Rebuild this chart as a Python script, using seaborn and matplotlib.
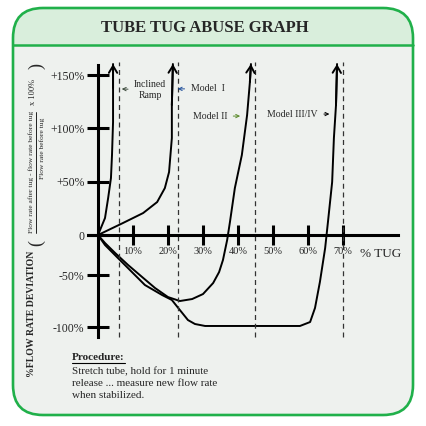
import numpy as np
import pandas as pd
import matplotlib
matplotlib.use("Agg")
import matplotlib.pyplot as plt
import seaborn as sns
from matplotlib.patches import FancyBboxPatch, Rectangle

# values: x = % tug, y = % flow rate deviation
ramp_x = [0, 2.0, 2.9, 3.7, 4.0, 4.3, 4.3, 4.3]
ramp_y = [0, 15.9, 34.7, 53.4, 75.0, 105.9, 137.8, 160.3]

model1_x = [0, 7.1, 12.9, 16.9, 19.1, 20.3, 21.1, 21.1, 21.4]
model1_y = [0, 11.2, 20.6, 30.9, 44.0, 59.0, 90.9, 121.8, 160.3]

model2_x = [0, 2.0, 4.9, 8.6, 12.6, 16.3, 20.0, 23.4, 26.9, 30.0, 32.9, 34.6,
            35.7, 36.9, 37.7, 39.1, 41.1, 42.6, 43.4, 43.7]
model2_y = [0, -10, -22.5, -37.5, -51.9, -62.5, -71.2, -75.0, -73.1, -68.3, -57.7, -46.3,
            -31.3, -6.3, 12.2, 44.0, 75.0, 112.5, 143.4, 160.3]

model3_x = [0, 2.0, 5.7, 9.7, 13.4, 18.3, 21.1, 23.4, 25.7, 27.7, 30.6, 57.7, 60.6,
            62.0, 63.4, 64.9, 65.7, 66.9, 67.4, 68.0, 68.3]
model3_y = [0, -12.5, -28.8, -46.3, -59.6, -69.2, -74.0, -83.7, -93.3, -97.1, -99, -99, -95.2,
            -81.7, -56.7, -16.3, 12.2, 49.7, 90.9, 121.8, 160.3]

dash_x = [6, 23, 45, 70]
x_ticks = [10, 20, 30, 40, 50, 60, 70]
x_labels = ["10%", "20%", "30%", "40%", "50%", "60%", "70%"]
y_ticks = [150, 100, 50, 0, -50, -100]
y_labels = ["+150%", "+100%", "+50%", "0", "-50%", "-100%"]

procedure_lines = ["Stretch tube, hold for 1 minute",
                   "release ... measure new flow rate",
                   "when stabilized."]

curves = {"ramp": (ramp_x, ramp_y), "Model I": (model1_x, model1_y),
          "Model II": (model2_x, model2_y), "Model III/IV": (model3_x, model3_y)}
frames = []
for name, (xs, ys) in curves.items():
    frames.append(pd.DataFrame({"tug": xs, "dev": ys, "model": name}))
df = pd.concat(frames, ignore_index=True)

sns.set_style("white")
plt.rcParams["font.family"] = ["Liberation Serif", "DejaVu Serif"]

W, H = 427, 426
fig = plt.figure(figsize=(W / 100, H / 100), dpi=100)
fig.patch.set_facecolor("white")

# background frame, drawn in pixel coordinates
bg = fig.add_axes([0, 0, 1, 1])
bg.set_xlim(0, W)
bg.set_ylim(H, 0)
bg.axis("off")
green = "#20b04a"
frame = FancyBboxPatch((13, 8), 400, 407, boxstyle="round,pad=0,rounding_size=30",
                       fc="#eef1ee", ec="none", zorder=1)
bg.add_patch(frame)
header = Rectangle((13, 8), 400, 37, fc="#d9eedc", ec="none", zorder=2)
header.set_clip_path(frame)
bg.add_patch(header)
bg.plot([13, 413], [45, 45], color=green, lw=1.8, zorder=3)
bg.add_patch(FancyBboxPatch((13, 8), 400, 407, boxstyle="round,pad=0,rounding_size=30",
                            fc="none", ec=green, lw=1.9, zorder=4))
bg.text(205, 28, "TUBE TUG ABUSE GRAPH", ha="center", va="center",
        fontsize=12, fontweight="bold", zorder=5)

# main chart; piecewise y scale to follow the hand-drawn axis spacing
VP = [-1000, -100, -50, 0, 150, 1000]
UP = [-92 - 900 * 1.04, -92, -40, 0, 160, 160 + 850 * 1.0667]
fwd = lambda v: np.interp(v, VP, UP)
inv = lambda u: np.interp(u, UP, VP)

ax = fig.add_axes([84 / W, 1 - 339.5 / H, 322 / W, 280.5 / H])
ax.set_facecolor("none")
ax.set_yscale("function", functions=(fwd, inv))
ax.set_xlim(-4, 88)
ax.set_ylim(-112, 165)

sns.lineplot(data=df, x="tug", y="dev", hue="model", units="model", estimator=None,
             sort=False, palette=["black"] * 4, linewidth=1.4, legend=False, ax=ax)

for name, (xs, ys) in curves.items():
    ax.annotate("", xy=(xs[-1], ys[-1]), xytext=(xs[-2], ys[-2]),
                arrowprops=dict(arrowstyle="->,head_length=0.5,head_width=0.3",
                                lw=1.4, color="black", shrinkA=0, shrinkB=0,
                                mutation_scale=10))

ax.vlines(dash_x, -110, 162, colors="#333333", linestyles=(0, (4, 3)), lw=0.9)

for s in ["top", "right"]:
    ax.spines[s].set_visible(False)
ax.spines["left"].set_position(("data", 0))
ax.spines["bottom"].set_position(("data", 0))
ax.spines["left"].set_bounds(-110, 159)
ax.spines["bottom"].set_bounds(-2.9, 85.7)
for s in ["left", "bottom"]:
    ax.spines[s].set_linewidth(2.2)
    ax.spines[s].set_color("black")

ax.set_xticks(x_ticks)
ax.set_xticklabels(x_labels)
ax.set_yticks(y_ticks)
ax.set_yticklabels(y_labels)
ax.minorticks_off()
ax.tick_params(axis="x", bottom=True, direction="inout", length=14.4, width=2.2, pad=1.5,
               labelsize=7.5, color="black")
ax.tick_params(axis="y", left=True, direction="inout", length=16.5, width=2.2, pad=1.5,
               labelsize=8.5, color="black")
yt = ax.yaxis.get_major_ticks()
yt[1].tick1line.set_color("#3a4a1c")
yt[5].tick1line.set_color("#1c1c80")
ax.set_xlabel("")
ax.set_ylabel("")

# curve labels
lab = dict(fontsize=7, ha="center", va="center")
ax.annotate("Inclined\nRamp", xy=(6, 137), xytext=(14.9, 136), **lab,
            arrowprops=dict(arrowstyle="->", lw=0.7, color="#3c4a3c", mutation_scale=6))
ax.annotate("Model  I", xy=(22, 137), xytext=(31.3, 137), **lab,
            arrowprops=dict(arrowstyle="->", lw=0.7, color="#1f4f9a", mutation_scale=6))
ax.annotate("Model II", xy=(41.4, 111.5), xytext=(32, 111.5), **lab,
            arrowprops=dict(arrowstyle="->", lw=0.7, color="#5a8a2a", mutation_scale=6))
ax.annotate("Model III/IV", xy=(66.9, 113.4), xytext=(55.6, 113.4), **lab,
            arrowprops=dict(arrowstyle="->", lw=0.7, color="black", mutation_scale=6))

bg.text(381, 254, "% TUG", ha="center", va="center", fontsize=9.5, zorder=6)

# rotated y-axis caption
bg.text(32, 314, "%FLOW RATE DEVIATION", rotation=90, ha="center", va="center",
        fontsize=7, fontweight="bold", zorder=6)
bg.text(37, 243, "(", rotation=90, ha="center", va="center", fontsize=13, zorder=6)
bg.text(37, 66, ")", rotation=90, ha="center", va="center", fontsize=13, zorder=6)
bg.text(31, 172, "Flow rate after tug - flow rate before tug", rotation=90,
        ha="center", va="center", fontsize=5.4, zorder=6)
bg.plot([36.5, 36.5], [112, 233], color="black", lw=0.6, zorder=6)
bg.text(42, 148, "Flow rate before tug", rotation=90, ha="center", va="center",
        fontsize=5.4, zorder=6)
bg.text(33, 92, "x 100%", rotation=90, ha="center", va="center", fontsize=6, zorder=6)

# procedure note
proc = bg.text(72, 357, "Procedure:", ha="left", va="center", fontsize=8,
               fontweight="bold", zorder=6)
for i, line in enumerate(procedure_lines):
    bg.text(72, 372 + 11.5 * i, line, ha="left", va="center", fontsize=8, zorder=6)
fig.canvas.draw()
bb = proc.get_window_extent().transformed(bg.transData.inverted())
bg.plot([bb.x0, bb.x1], [362.5, 362.5], color="black", lw=0.8, zorder=6)

fig.savefig("out.png", dpi=100)
